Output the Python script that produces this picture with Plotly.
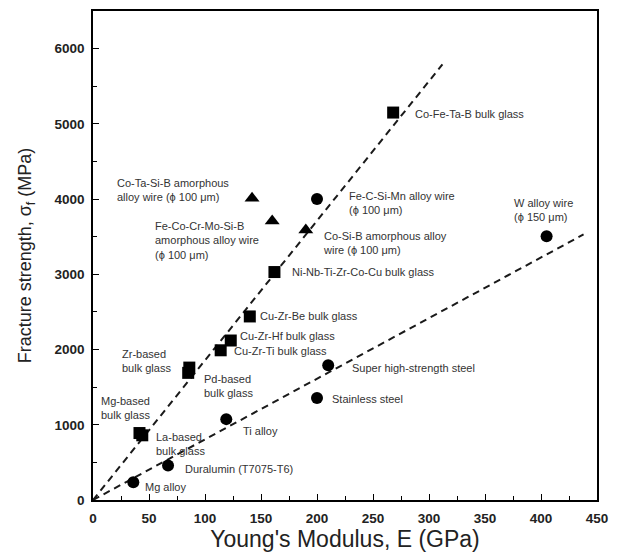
import plotly.graph_objects as go

# ---- data ----
sq_x = [268, 162, 140, 123, 114, 86, 85, 41.5, 44]
sq_y = [5150, 3030, 2440, 2120, 1990, 1760, 1690, 890, 860]

tri_x = [142, 160, 190]
tri_y = [4010, 3710, 3590]

circ_x = [200, 405, 210, 200, 119, 67, 36]
circ_y = [4000, 3505, 1790, 1355, 1075, 460, 235]

fitA_x = [0, 312]
fitA_y = [0, 5790]
fitB_x = [0, 438]
fitB_y = [0, 3530]

labels = [
    "Co-Fe-Ta-B bulk glass",
    "Co-Ta-Si-B amorphous<br>alloy wire (ϕ 100 μm)",
    "Fe-C-Si-Mn alloy wire<br>(ϕ 100 μm)",
    "W alloy wire<br>(ϕ 150 μm)",
    "Fe-Co-Cr-Mo-Si-B<br>amorphous alloy wire<br>(ϕ 100 μm)",
    "Co-Si-B amorphous alloy<br>wire (ϕ 100 μm)",
    "Ni-Nb-Ti-Zr-Co-Cu bulk glass",
    "Cu-Zr-Be bulk glass",
    "Cu-Zr-Hf bulk glass",
    "Cu-Zr-Ti bulk glass",
    "Zr-based<br>bulk glass",
    "Pd-based<br>bulk glass",
    "Super high-strength steel",
    "Stainless steel",
    "Mg-based<br>bulk glass",
    "Ti alloy",
    "La-based<br>bulk glass",
    "Duralumin (T7075-T6)",
    "Mg alloy",
]
label_x = [286, 19.5, 226.5, 374, 53.5, 204, 175.5, 147.5, 129.5, 124, 24.5, 97.5, 229.5, 212, 5.5, 132.5, 54.5, 80.5, 45]
label_y = [5125, 4125, 3950, 3855, 3455, 3420, 3025, 2440, 2185, 1975, 1850, 1520, 1750, 1345, 1228, 915, 748, 412, 178]

x_ticks = [0, 50, 100, 150, 200, 250, 300, 350, 400, 450]
y_ticks = [0, 1000, 2000, 3000, 4000, 5000, 6000]

FONT = "Liberation Sans, Arial, sans-serif"

fig = go.Figure()

dash = "7px,5px"
fig.add_trace(go.Scatter(x=fitA_x, y=fitA_y, mode="lines",
                         line=dict(color="#1a1a1a", width=2, dash=dash), showlegend=False))
fig.add_trace(go.Scatter(x=fitB_x, y=fitB_y, mode="lines",
                         line=dict(color="#1a1a1a", width=2, dash=dash), showlegend=False))

fig.add_trace(go.Scatter(x=sq_x, y=sq_y, mode="markers",
                         marker=dict(symbol="square", size=12, color="black"), showlegend=False))
fig.add_trace(go.Scatter(x=tri_x, y=tri_y, mode="markers",
                         marker=dict(symbol="triangle-up", size=13, color="black"), showlegend=False))
fig.add_trace(go.Scatter(x=circ_x, y=circ_y, mode="markers",
                         marker=dict(symbol="circle", size=12, color="black"), showlegend=False))

for t, lx, ly in zip(labels, label_x, label_y):
    fig.add_annotation(x=lx, y=ly, text=t, showarrow=False, xanchor="left", yanchor="middle",
                       align="left", font=dict(family=FONT, size=11, color="#333333"))

axis_common = dict(
    showline=True, linecolor="black", linewidth=1.5, mirror=True,
    showgrid=False, zeroline=False,
    ticks="inside", ticklen=6, tickwidth=1.2, tickcolor="black",
    tickfont=dict(family=FONT, size=13.5, color="#222222", weight="bold"),
)

fig.update_xaxes(range=[0, 450], tickvals=x_ticks, ticktext=[str(v) for v in x_ticks],
                 ticklabelstandoff=5,
                 minor=dict(ticks="inside", ticklen=4, dtick=25, tickcolor="black"),
                 title=dict(text="Young's Modulus, E (GPa)", standoff=0,
                            font=dict(family=FONT, size=23, color="#222222")),
                 **axis_common)
fig.update_yaxes(range=[0, 6500], tickvals=y_ticks, ticktext=[str(v) for v in y_ticks],
                 ticklabelstandoff=4,
                 minor=dict(ticks="inside", ticklen=4, dtick=500, tickcolor="black"),
                 title=dict(text="Fracture strength, σ<sub>f</sub> (MPa)", standoff=18,
                            font=dict(family=FONT, size=18, color="#222222")),
                 **axis_common)

fig.update_layout(width=619, height=552, margin=dict(l=93, r=22, t=9, b=52),
                  plot_bgcolor="white", paper_bgcolor="white")

fig.write_html("out.html", config={"displayModeBar": False})

# remove the browser's default body margin so the figure sits at the page origin
with open("out.html", "r", encoding="utf-8") as f:
    html = f.read()
html = html.replace("<head>", "<head><style>html,body{margin:0;padding:0;}</style>", 1)
with open("out.html", "w", encoding="utf-8") as f:
    f.write(html)
